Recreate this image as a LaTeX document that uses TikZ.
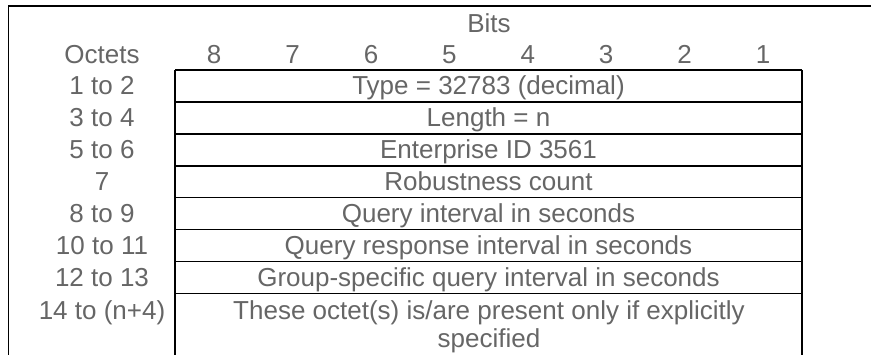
\documentclass[tikz,border=0pt]{standalone}
\usepackage{fontspec}
\setmainfont{Liberation Sans}
\definecolor{txtgray}{RGB}{102,102,102}
\begin{document}
\begin{tikzpicture}[x=1pt,y=-1pt,
  lbl/.style={text=txtgray,font=\fontsize{26}{28}\selectfont,inner sep=0pt,anchor=base},
  rule/.style={line width=1.4pt,black},
  frame/.style={line width=1.6pt,black}]
\useasboundingbox (0,0) rectangle (871,355);
% outer frame (open at right and bottom)
\draw[frame] (8.3,356) -- (8.3,6) -- (872,6);
% table grid
\foreach \k in {0,...,7} {
  \draw[rule] (175,{70+31.95*\k}) -- (802,{70+31.95*\k});
}
\draw[rule] (175,70) -- (175,356);
\draw[rule] (802,70) -- (802,356);
% headers
\node[lbl] (bits) at (489,33) {Bits};
\node[lbl] (octets) at (102,63.5) {Octets};
\foreach \b [count=\i from 0] in {8,7,6,5,4,3,2,1} {
  \node[lbl] (bit\b) at ({214.2+78.4*\i},63.5) {\b};
}
% row labels and contents
\foreach \lab/\txt [count=\k from 0] in {
  1 to 2/{Type = 32783 (decimal)},
  3 to 4/{Length = n},
  5 to 6/{Enterprise ID 3561},
  7/{Robustness count},
  8 to 9/{Query interval in seconds},
  10 to 11/{Query response interval in seconds},
  12 to 13/{Group-specific query interval in seconds}} {
  \node[lbl] (oct\k) at (102,{94.8+31.95*\k}) {\lab};
  \node[lbl] (fld\k) at (488.5,{94.8+31.95*\k}) {\txt};
}
\node[lbl] (oct7) at (102,319.5) {14 to (n+4)};
\node[lbl,align=center] (fld7) at (489,348) {These octet(s) is/are present only if explicitly\\specified};
\end{tikzpicture}
\end{document}
